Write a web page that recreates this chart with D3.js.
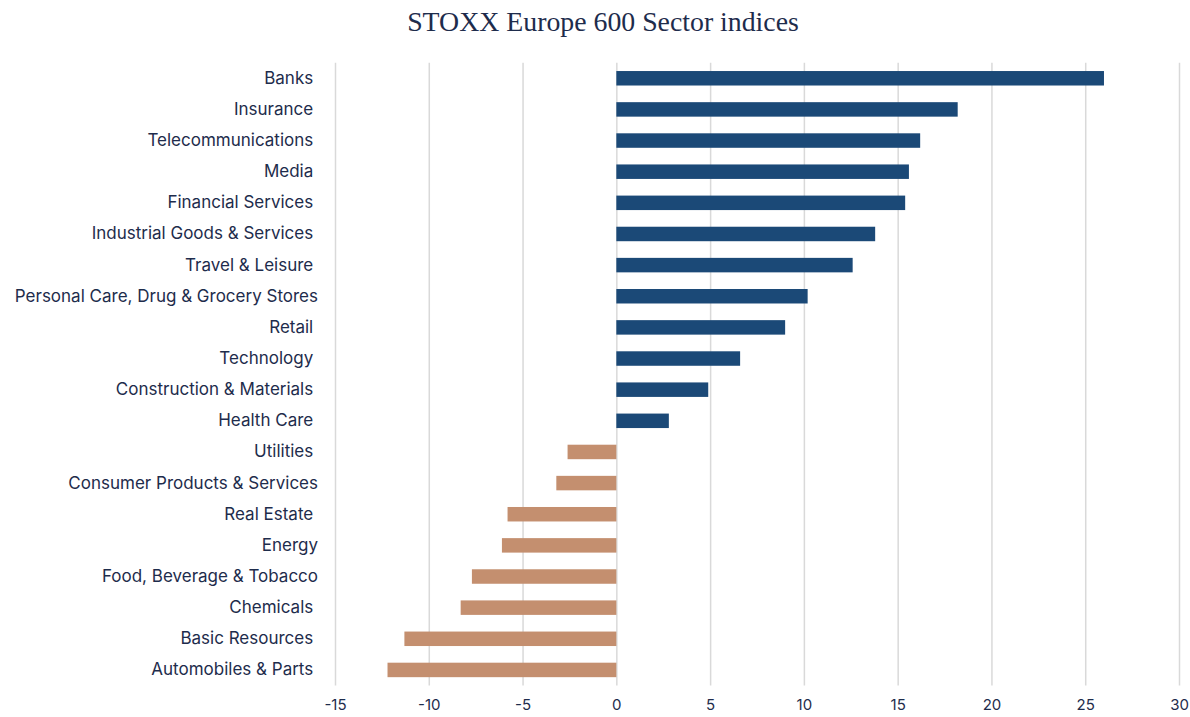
<!DOCTYPE html>
<html>
<head>
<meta charset="utf-8">
<script src="https://cdn.jsdelivr.net/npm/d3@7"></script>
<style>
    body { margin: 0; background: #fff; }
    .axis--y text { white-space: pre; }
</style>
</head>
<body>
<div id="sector-bar"></div>
<script>
// sector names (some carry a trailing space, as in the source sheet)
var sectors = ["Banks ", "Insurance ", "Telecommunications ", "Media ", "Financial Services ",
    "Industrial Goods & Services ", "Travel & Leisure ", "Personal Care, Drug & Grocery Stores",
    "Retail ", "Technology ", "Construction & Materials ", "Health Care ", "Utilities ",
    "Consumer Products & Services", "Real Estate ", "Energy", "Food, Beverage & Tobacco",
    "Chemicals ", "Basic Resources ", "Automobiles & Parts "];
var returns = [26.0, 18.2, 16.2, 15.6, 15.4, 13.8, 12.6, 10.2, 9.0, 6.6, 4.9, 2.8,
    -2.6, -3.2, -5.8, -6.1, -7.7, -8.3, -11.3, -12.2];
var xTicks = [-15, -10, -5, 0, 5, 10, 15, 20, 25, 30];
var title = "STOXX Europe 600 Sector indices";

var W = 1190, H = 717;
var margin = { top: 62.7, right: 11, bottom: 31.5, left: 335 };
var width = W - margin.left - margin.right,
    height = H - margin.top - margin.bottom;

var blue = "#1b4977", tan = "#c48f6f", ink = "#1e2c4c";
var labelFont = "Inter, 'Open Sans', sans-serif";

var svg = d3.select("#sector-bar").append("svg")
    .attr("width", W)
    .attr("height", H);

svg.append("text")
    .attr("x", 603)
    .attr("y", 31)
    .attr("text-anchor", "middle")
    .style("font-family", "'Liberation Serif', serif")
    .style("font-size", "27.8px")
    .style("fill", ink)
    .text(title);

var g = svg.append("g")
    .attr("transform", "translate(" + margin.left + "," + margin.top + ")");

var xScale = d3.scaleLinear().domain([-15, 30]).range([0, width]);
var yScale = d3.scaleBand().domain(sectors).range([0, height]).paddingInner(0.535).paddingOuter(0.2675);

// gridlines
g.append("g")
    .attr("class", "grid")
    .call(d3.axisBottom(xScale).tickValues(xTicks).tickSize(height).tickFormat(""))
    .call(function (s) {
        s.select(".domain").remove();
        s.selectAll("line").attr("stroke", "#d9d9d9").attr("stroke-width", 1.5);
    });

g.selectAll(".bar")
    .data(returns)
    .enter().append("rect")
    .attr("class", "bar")
    .attr("x", function (d) { return xScale(Math.min(0, d)); })
    .attr("y", function (d, i) { return yScale(sectors[i]); })
    .attr("width", function (d) { return Math.abs(xScale(d) - xScale(0)); })
    .attr("height", yScale.bandwidth())
    .attr("fill", function (d) { return d >= 0 ? blue : tan; });

// x axis labels (plain hyphen for negatives, like the source)
g.append("g")
    .attr("class", "axis axis--x")
    .attr("transform", "translate(0," + height + ")")
    .call(d3.axisBottom(xScale).tickValues(xTicks).tickSize(0).tickPadding(14)
        .tickFormat(function (d) { return String(d); }))
    .call(function (s) {
        s.select(".domain").remove();
        s.selectAll("text")
            .style("font-family", labelFont)
            .style("font-size", "15px")
            .style("fill", ink);
    });

// y axis labels
g.append("g")
    .attr("class", "axis axis--y")
    .call(d3.axisLeft(yScale).tickSize(0).tickPadding(17))
    .call(function (s) {
        s.select(".domain").remove();
        s.selectAll("text")
            .style("font-family", labelFont)
            .style("font-size", "17px")
            .style("fill", ink);
    });
</script>
</body>
</html>
